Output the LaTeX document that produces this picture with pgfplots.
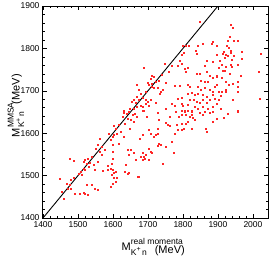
\documentclass[border=0pt]{standalone}
\usepackage{fontspec}
\setmainfont{Liberation Sans}
\usepackage{pgfplots}
\pgfplotsset{compat=1.18}
\newcommand{\MLabel}[1]{M\rlap{\raisebox{6pt}{\fontsize{8.5}{9}\selectfont #1}}\raisebox{-4.5pt}{\fontsize{8.5}{9}\selectfont K\raisebox{3.5pt}{\fontsize{7}{8}\selectfont +}\,n}}
\begin{document}
\begin{tikzpicture}
\begin{axis}[
  scale only axis,
  width=225pt, height=212pt,
  xmin=1400, xmax=2043, ymin=1400, ymax=1900,
  xtick={1400,1500,...,2000}, ytick={1400,1500,...,1900},
  minor tick num=4,
  tick align=inside,
  xtick pos=both, ytick pos=both,
  major tick length=4pt, minor tick length=2pt,
  axis line style={line width=1pt},
  every tick/.style={black, line width=0.6pt},
  /pgf/number format/assume math mode=true,
  /pgf/number format/1000 sep={},
  tick label style={font=\fontsize{8.5}{10}\selectfont},
  xlabel={\MLabel{real momenta}\hspace{8pt}\raisebox{-3pt}{(MeV)}},
  ylabel={\MLabel{MMSA}\hspace{8pt}(MeV)},
  label style={font=\fontsize{11}{13}\selectfont},
  xlabel style={at={(axis description cs:0.49,0)}, anchor=north, yshift=-17pt},
  ylabel style={at={(axis description cs:-0.12,0.53)}, anchor=center},
]
\addplot[black, line width=0.9pt] coordinates {(1400,1400) (1900,1900)};
\addplot[only marks, mark=square*, mark size=0.5pt, color=red, mark options={draw=red!85!white, fill=red!85!white}] table {
x y
1587 1598
1561 1588
1556 1574
1568 1568
1551 1564
1577 1560
1563 1556
1568 1549
1539 1545
1529 1541
1520 1538
1515 1533
1525 1529
1534 1530
1544 1525
1556 1533
1477 1539
1489 1534
1531 1521
1515 1517
1520 1513
1547 1515
1509 1509
1503 1505
1511 1501
1572 1512
1584 1523
1585 1515
1487 1494
1480 1490
1468 1482
1447 1492
1477 1478
1471 1470
1453 1462
1480 1468
1458 1446
1525 1478
1539 1478
1547 1470
1556 1466
1520 1458
1529 1456
1491 1458
1506 1458
1515 1460
1631 1648
1638 1647
1646 1651
1655 1643
1663 1647
1669 1639
1627 1639
1641 1635
1651 1631
1660 1627
1634 1623
1648 1611
1617 1619
1603 1617
1608 1611
1622 1603
1612 1600
1603 1596
1631 1592
1598 1592
1593 1584
1617 1576
1600 1572
1684 1653
1695 1640
1729 1648
1731 1631
1727 1611
1703 1609
1708 1600
1729 1600
1722 1596
1717 1592
1684 1596
1676 1586
1731 1576
1736 1572
1727 1570
1741 1529
1703 1564
1708 1556
1712 1554
1684 1553
1679 1545
1689 1545
1693 1549
1684 1537
1691 1541
1703 1537
1641 1560
1651 1560
1660 1553
1665 1537
1646 1549
1598 1556
1600 1541
1596 1529
1636 1525
1634 1509
1641 1505
1644 1507
1674 1497
1593 1517
1598 1513
1603 1507
1608 1509
1596 1501
1603 1494
1612 1494
1608 1486
1593 1475
1598 1482
1671 1497
1762 1640
1779 1651
1795 1653
1805 1651
1814 1653
1824 1651
1789 1640
1795 1643
1809 1643
1819 1639
1824 1643
1829 1637
1833 1633
1848 1648
1862 1651
1857 1643
1876 1648
1886 1651
1895 1635
1886 1627
1751 1625
1757 1619
1762 1617
1781 1619
1795 1623
1808 1622
1814 1627
1786 1608
1795 1609
1802 1611
1776 1598
1767 1580
1752 1568
1773 1554
1743 1529
1865 1611
1867 1603
1824 1611
1897 1635
1916 1637
1928 1645
1956 1651
1689 1754
1712 1735
1717 1733
1708 1728
1698 1719
1722 1721
1731 1725
1739 1737
1669 1714
1703 1714
1712 1717
1711 1709
1717 1707
1729 1707
1674 1703
1693 1699
1736 1699
1733 1693
1679 1693
1669 1685
1684 1683
1653 1675
1660 1678
1665 1672
1674 1678
1693 1680
1698 1675
1708 1680
1679 1666
1684 1662
1669 1662
1660 1658
1689 1654
1648 1658
1631 1652
1693 1670
1722 1673
1703 1666
1848 1862
1798 1806
1808 1807
1817 1806
1802 1791
1795 1785
1838 1787
1843 1807
1857 1811
1881 1811
1886 1815
1895 1807
1836 1795
1790 1772
1795 1764
1867 1772
1862 1760
1886 1768
1895 1784
1748 1764
1767 1760
1786 1760
1805 1752
1814 1754
1809 1744
1760 1744
1838 1740
1848 1740
1867 1746
1876 1736
1886 1732
1895 1736
1852 1725
1862 1721
1871 1722
1751 1719
1776 1711
1790 1711
1814 1714
1819 1709
1843 1709
1852 1703
1862 1707
1876 1703
1884 1699
1890 1709
1743 1703
1814 1693
1826 1695
1833 1691
1843 1693
1857 1690
1867 1685
1884 1690
1890 1681
1786 1681
1795 1683
1819 1678
1831 1680
1838 1675
1848 1673
1855 1680
1867 1673
1876 1678
1767 1670
1776 1666
1795 1670
1800 1664
1814 1667
1833 1662
1843 1658
1857 1662
1871 1658
1886 1662
1752 1658
1805 1654
1826 1653
1937 1856
1943 1850
1933 1827
1928 1819
1945 1817
1956 1819
1926 1806
1931 1801
1935 1795
1937 1790
1916 1793
1914 1787
1921 1784
1928 1782
1945 1782
1969 1793
2023 1787
1905 1770
1918 1777
1940 1774
1969 1776
1911 1762
1921 1758
1937 1762
1940 1758
1956 1762
1902 1754
1914 1748
1918 1748
1933 1740
1964 1735
2016 1746
1897 1733
1911 1730
1921 1721
1931 1714
1943 1717
1956 1721
1897 1714
1902 1699
1911 1699
1921 1703
1921 1699
1956 1709
1956 1699
1909 1688
1902 1678
1943 1680
2019 1681
1907 1658
1897 1670
1956 1652
};
\end{axis}
\pgfresetboundingbox
\path ([shift={(-43pt,-45pt)}]current axis.south west) rectangle ([shift={(6pt,6pt)}]current axis.north east);
\end{tikzpicture}
\end{document}
